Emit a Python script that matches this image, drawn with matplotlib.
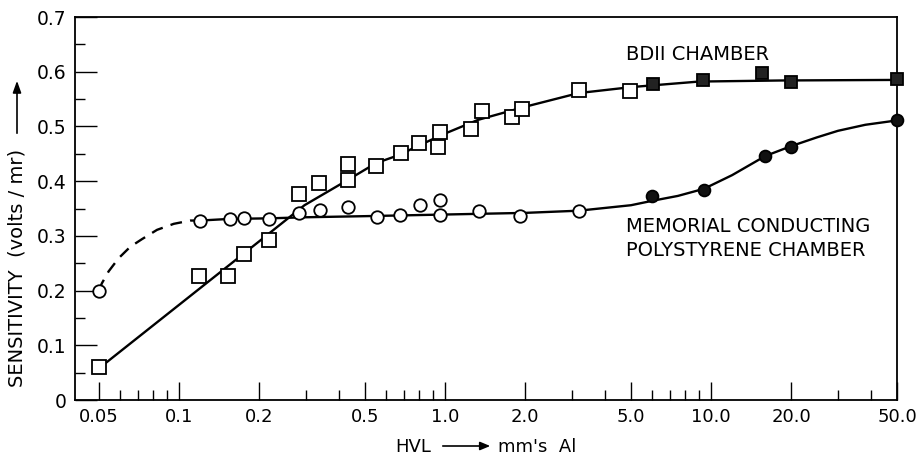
import numpy as np
import matplotlib
matplotlib.use("Agg")
from matplotlib import pyplot as plt
from matplotlib.ticker import FixedLocator, FixedFormatter, NullFormatter

# BDII chamber measurements (open squares, then filled squares)
bd_x_open = [0.05, 0.119, 0.153, 0.176, 0.218, 0.283, 0.337, 0.43, 0.43, 0.55,
             0.684, 0.796, 0.94, 0.96, 1.25, 1.38, 1.78, 1.94, 3.18, 4.97]
bd_y_open = [0.06, 0.227, 0.227, 0.267, 0.292, 0.376, 0.397, 0.402, 0.431, 0.428,
             0.451, 0.470, 0.463, 0.489, 0.495, 0.529, 0.517, 0.531, 0.567, 0.564]
bd_x_fill = [6.04, 9.33, 15.5, 20.0, 50.0]
bd_y_fill = [0.577, 0.584, 0.597, 0.582, 0.587]

# BDII fitted curve
bd_curve_x = [0.05, 0.1, 0.2, 0.296, 0.43, 0.55, 0.665, 0.966, 1.33, 2.0,
              3.18, 5.04, 9.0, 18.5, 50.0]
bd_curve_y = [0.058, 0.174, 0.29, 0.356, 0.402, 0.433, 0.447, 0.484, 0.512, 0.536,
              0.561, 0.572, 0.582, 0.584, 0.585]

# Memorial conducting polystyrene chamber (open circles, then filled circles)
mem_x_open = [0.05, 0.12, 0.155, 0.176, 0.218, 0.283, 0.339, 0.43, 0.555, 0.675,
              0.803, 0.955, 0.955, 1.34, 1.91, 3.18]
mem_y_open = [0.2, 0.328, 0.330, 0.332, 0.330, 0.341, 0.347, 0.352, 0.334, 0.338,
              0.356, 0.366, 0.338, 0.346, 0.336, 0.346]
mem_x_fill = [6.0, 9.4, 16.0, 20.0, 50.0]
mem_y_fill = [0.373, 0.384, 0.446, 0.462, 0.511]

# dashed part of memorial curve
mem_dash_x = [0.05, 0.0512, 0.0543, 0.0592, 0.0655, 0.0725, 0.0826, 0.0955, 0.1103, 0.12]
mem_dash_y = [0.2, 0.213, 0.235, 0.259, 0.280, 0.294, 0.311, 0.322, 0.328, 0.328]
# solid part of memorial curve
mem_curve_x = [0.12, 0.155, 0.218, 0.3, 0.5, 1.0, 2.0, 3.18, 5.0, 6.0, 7.5, 9.4, 12.0,
               16.0, 20.0, 25.0, 30.0, 38.0, 50.0]
mem_curve_y = [0.328, 0.331, 0.332, 0.334, 0.336, 0.339, 0.342, 0.346, 0.356, 0.364,
               0.373, 0.386, 0.411, 0.446, 0.464, 0.480, 0.492, 0.503, 0.511]

x_major = [0.05, 0.1, 0.2, 0.5, 1.0, 2.0, 5.0, 10.0, 20.0, 50.0]
x_labels = ["0.05", "0.1", "0.2", "0.5", "1.0", "2.0", "5.0", "10.0", "20.0", "50.0"]
x_minor = [0.06, 0.07, 0.08, 0.09, 0.3, 0.4, 0.6, 0.7, 0.8, 0.9,
           3, 4, 6, 7, 8, 9, 30, 40]
y_major = [0, 0.1, 0.2, 0.3, 0.4, 0.5, 0.6, 0.7]
y_labels = ["0", "0.1", "0.2", "0.3", "0.4", "0.5", "0.6", "0.7"]
y_minor = [0.05, 0.15, 0.25, 0.35, 0.45, 0.55, 0.65]

plt.rcParams['font.family'] = ['DejaVu Sans']

W, H = 919, 459
fig = plt.figure(figsize=(W / 100, H / 100), dpi=100)
ax = fig.add_axes([75 / W, 1 - 400 / H, (897 - 75) / W, (400 - 17) / H])

ax.set_xscale('log')
ax.set_xlim(0.0406, 50.0)
ax.set_ylim(0, 0.7)

lw = 1.7
ax.plot(bd_curve_x, bd_curve_y, color='black', lw=lw, zorder=2)
ax.plot(mem_curve_x, mem_curve_y, color='black', lw=lw, zorder=2)
ax.plot(mem_dash_x, mem_dash_y, color='black', lw=lw, dashes=(5, 3.5), zorder=2)

ax.plot(bd_x_open, bd_y_open, ls='none', marker='s', ms=9.5, mfc='white',
        mec='black', mew=1.3, zorder=3)
ax.plot(bd_x_fill, bd_y_fill, ls='none', marker='s', ms=9, mfc='#222222',
        mec='black', mew=1.3, zorder=3, clip_on=False)
ax.plot(mem_x_open, mem_y_open, ls='none', marker='o', ms=9, mfc='white',
        mec='black', mew=1.3, zorder=3)
ax.plot(mem_x_fill, mem_y_fill, ls='none', marker='o', ms=8.5, mfc='#111111',
        mec='black', mew=1.3, zorder=3, clip_on=False)

ax.xaxis.set_major_locator(FixedLocator(x_major))
ax.xaxis.set_major_formatter(FixedFormatter(x_labels))
ax.xaxis.set_minor_locator(FixedLocator(x_minor))
ax.xaxis.set_minor_formatter(NullFormatter())
ax.yaxis.set_major_locator(FixedLocator(y_major))
ax.yaxis.set_major_formatter(FixedFormatter(y_labels))
ax.yaxis.set_minor_locator(FixedLocator(y_minor))

ax.tick_params(axis='x', which='major', direction='in', length=13, width=1.0,
               labelsize=13, pad=6)
ax.tick_params(axis='x', which='minor', direction='in', length=7, width=1.0)
ax.tick_params(axis='y', which='major', direction='in', length=16, width=1.0,
               labelsize=13.5, pad=6)
ax.tick_params(axis='y', which='minor', direction='in', length=7, width=1.0)
for s in ax.spines.values():
    s.set_linewidth(1.3)


# figure pixel coords, y measured from top
def fx(px):
    return px / W


def fy(py):
    return 1 - py / H


fig.text(fx(626), fy(55), "BDII CHAMBER", fontsize=14, va='center', ha='left')
fig.text(fx(626), fy(227), "MEMORIAL CONDUCTING", fontsize=14, va='center', ha='left')
fig.text(fx(626), fy(250), "POLYSTYRENE CHAMBER", fontsize=14, va='center', ha='left')

fig.text(fx(413), fy(447), "HVL", fontsize=13, ha='center', va='center')
fig.text(fx(498), fy(447), "mm's  Al", fontsize=13, ha='left', va='center')
fig.add_artist(matplotlib.patches.FancyArrowPatch(
    (fx(440), fy(446)), (fx(493), fy(446)), transform=fig.transFigure,
    arrowstyle='-|>,head_length=6,head_width=2.5', color='black', lw=1.2,
    mutation_scale=1))

fig.text(fx(17), fy(268), "SENSITIVITY  (volts / mr)", fontsize=14, rotation=90,
         ha='center', va='center')
fig.add_artist(matplotlib.patches.FancyArrowPatch(
    (fx(17), fy(136)), (fx(17), fy(78)), transform=fig.transFigure,
    arrowstyle='-|>,head_length=7,head_width=2.5', color='black', lw=1.2,
    mutation_scale=1))

fig.savefig("out.png", dpi=100)
